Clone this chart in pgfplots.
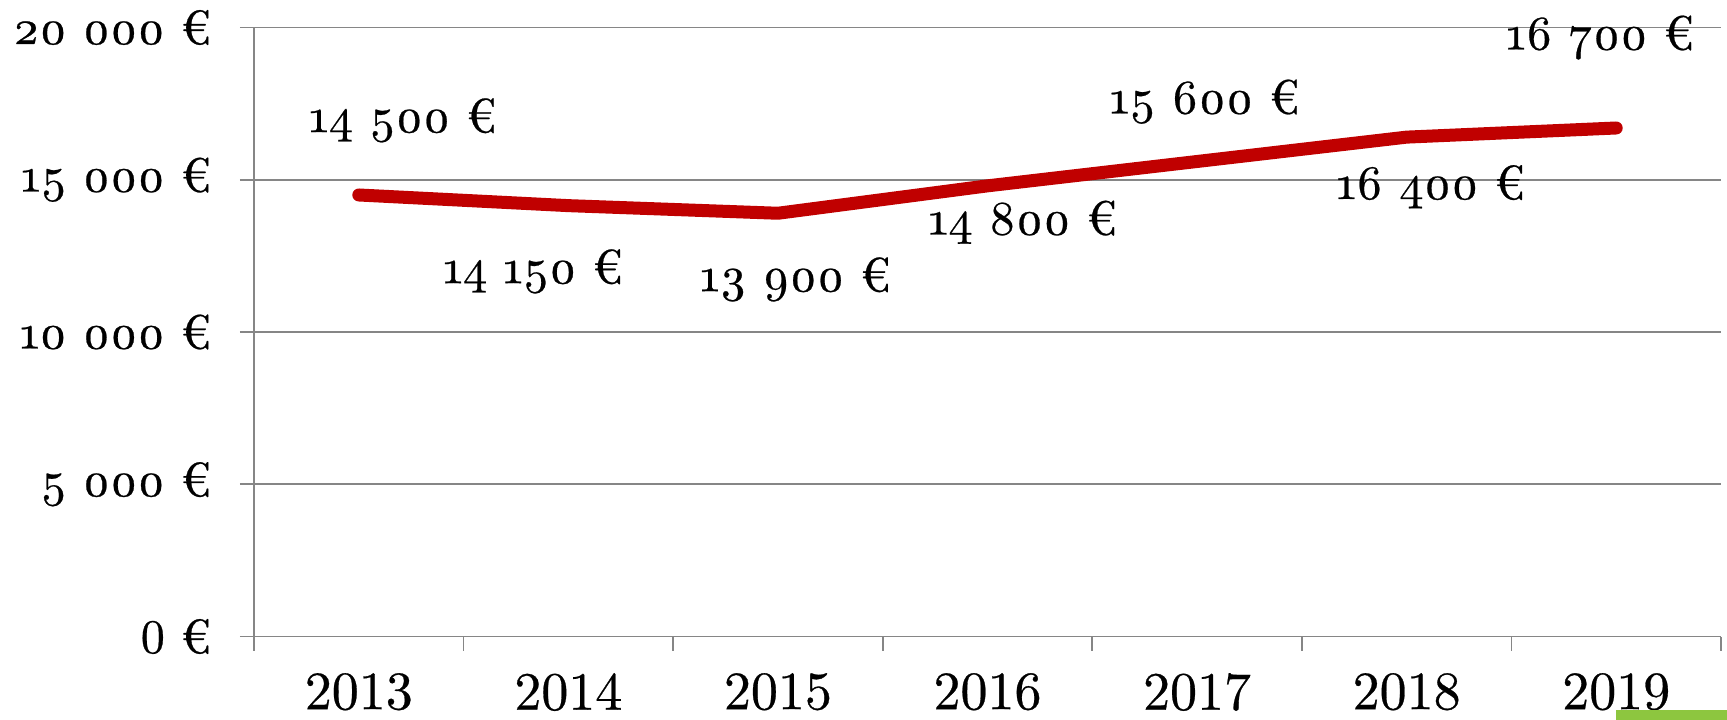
\documentclass[border=0pt]{standalone}
\usepackage{fontspec}
\usepackage{pgfplots}
\usepackage{pgfplotstable}
\pgfplotsset{compat=1.18}
\newfontfamily\osf{lmroman10-regular}[Extension=.otf, Numbers=OldStyle, FakeBold=0.5]
\newfontfamily\lin{lmroman10-regular}[Extension=.otf, FakeBold=0.5]
\definecolor{linered}{RGB}{192,0,0}
\definecolor{gridgray}{RGB}{134,134,134}
\definecolor{corner}{RGB}{141,198,63}
\pgfplotstableread{
x y dx dy
0 14500 22.0 37.3
1 14150 -17.7 -32.9
2 13900 8.7 -33.1
3 14800 17.6 -18.2
4 15600 3.8 29.9
5 16400 12.0 -24.8
6 16700 -8.1 45.2
}\datatable
\begin{document}
\begin{tikzpicture}
\begin{axis}[
  at={(0,0)}, anchor=south west,
  scale only axis,
  width=733.5pt, height=304.5pt,
  xmin=-0.5, xmax=6.5,
  ymin=0, ymax=20000,
  clip=false,
  scaled y ticks=false,
  axis x line=bottom, axis y line=left,
  axis line style={-, draw=gridgray, line width=0.9pt},
  xtick={0,...,6},
  xticklabels={2013,2014,2015,2016,2017,2018,2019},
  minor xtick={-0.5,0.5,...,6.5},
  ytick={0,5000,10000,15000,20000},
  yticklabels={{0 €},{\osf 5 000 €},{\osf 10 000 €},{\osf 15 000 €},{\osf 20 000 €}},
  tick align=outside,
  major tick length=7pt,
  minor tick length=7pt,
  major x tick style={draw=none},
  tick style={draw=gridgray, line width=0.9pt},
  ymajorgrids,
  major grid style={draw=gridgray, line width=0.9pt},
  xticklabel style={font=\lin\fontsize{27}{31}\selectfont, yshift=-7.8pt},
  yticklabel style={font=\lin\fontsize{24}{28}\selectfont, xshift=-11pt},
]
\addplot[color=linered, line width=6.5pt, line cap=round, line join=round, no markers,
  point meta=y,
  visualization depends on={\thisrow{dx}\as\dx},
  visualization depends on={\thisrow{dy}\as\dy},
  nodes near coords={\pgfmathprintnumber[fixed, precision=0, 1000 sep={\ }, assume math mode=true]{\pgfplotspointmeta}\ €},
  every node near coord/.append style={font=\osf\fontsize{24}{28}\selectfont, text=black, anchor=center, xshift=\dx pt, yshift=\dy pt},
] table[x=x, y=y] {\datatable};
\end{axis}
\fill[corner] (681pt,-36.7pt) rectangle (740pt,-45pt);
\pgfresetboundingbox
\useasboundingbox (-127pt,-41.7pt) rectangle (736.5pt,318.25pt);
\end{tikzpicture}
\end{document}
